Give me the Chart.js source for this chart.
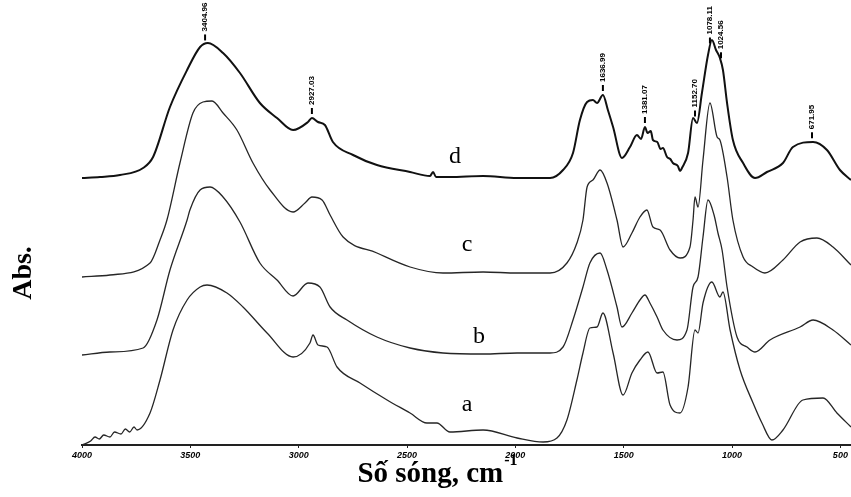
<!DOCTYPE html>
<html>
<head>
<meta charset="utf-8">
<script src="https://cdn.jsdelivr.net/npm/chart.js@4.4.0/dist/chart.umd.min.js"></script>
<style>
  html, body { margin: 0; background: #fff; }
</style>
</head>
<body>
<canvas id="irChart" width="851" height="497"></canvas>
<script>
// wavenumber ticks (cm-1)
const xTicks = [4000, 3500, 3000, 2500, 2000, 1500, 1000, 500];

// spectra, stacked (arbitrary absorbance units)
const wnA = [4000,3960,3940,3920,3900,3871,3850,3820,3800,3780,3760,3746,3686,3640,3580,3515,3455,3423,3331,3257,3146,3026,2948,2934,2911,2869,2823,2717,2592,2486,2408,2362,2302,2149,1992,1872,1808,1762,1716,1688,1656,1623,1596,1549,1503,1462,1425,1388,1346,1319,1286,1240,1203,1171,1157,1134,1093,1056,1042,1009,963,903,862,816,765,673,580,516,451];
const absA = [0,4,8,6,10,8,13,11,16,13,18,15,32,65,115,145,158,160,152,138,112,88,102,110,100,98,78,62,45,32,22,22,13,15,7,3,7,25,65,92,117,118,132,92,50,72,85,93,72,73,40,32,58,115,112,142,163,148,153,115,75,42,22,5,15,45,47,32,18];

const wnB = [4000,3871,3718,3654,3594,3515,3502,3455,3409,3349,3271,3179,3100,3026,2957,2902,2855,2777,2639,2486,2334,2149,1992,1840,1780,1734,1688,1656,1609,1577,1531,1508,1462,1425,1402,1379,1346,1319,1254,1208,1180,1157,1134,1111,1083,1065,1046,1023,977,931,894,825,686,626,534,451];
const absB = [90,93,97,125,175,225,235,255,258,248,223,182,165,149,162,158,138,125,108,97,92,91,92,92,98,125,158,182,192,175,138,118,132,145,150,142,128,115,105,115,158,168,208,245,230,212,195,158,108,98,93,105,118,125,115,100];

const wnC = [4000,3871,3686,3640,3608,3548,3488,3442,3400,3349,3285,3211,3132,3026,2971,2939,2892,2855,2795,2639,2486,2334,2149,1992,1840,1762,1716,1688,1669,1642,1609,1577,1531,1503,1462,1425,1393,1365,1332,1286,1240,1194,1180,1171,1157,1134,1102,1069,1056,1023,996,949,903,848,765,686,608,534,451];
const absC = [168,170,182,205,225,282,332,343,344,332,315,282,255,233,242,248,245,230,208,192,178,172,173,172,172,182,202,225,258,265,275,262,225,198,212,228,235,218,215,195,187,198,225,248,238,285,342,308,305,268,225,188,178,172,185,203,207,198,180];

const wnD = [4000,3917,3825,3718,3672,3594,3515,3455,3419,3349,3271,3179,3100,3026,2957,2939,2911,2879,2842,2749,2639,2486,2394,2380,2366,2302,2149,1992,1840,1780,1734,1702,1669,1642,1623,1596,1573,1549,1508,1471,1439,1420,1402,1390,1375,1365,1345,1330,1319,1300,1285,1273,1250,1240,1231,1203,1180,1162,1139,1111,1093,1074,1056,1042,1023,996,949,894,839,765,719,626,562,502,451];
const absD = [267,268,270,277,288,338,375,398,402,392,372,342,327,315,323,327,323,320,303,290,280,273,269,273,268,268,269,267,267,275,292,325,343,345,342,350,335,318,287,298,310,306,318,312,314,305,303,296,297,288,286,282,279,274,277,292,327,322,352,390,405,395,387,375,342,305,282,267,273,282,298,303,295,275,265];

// peak marks on spectrum d
const peakWn = [3432, 2939, 1596, 1402, 1171, 1102, 1051, 631];
const peakText = ['3404.96', '2927.03', '1636.99', '1381.07', '1152.70', '1078.11', '1024.56', '671.95'];

const seriesNames = ['a', 'b', 'c', 'd'];

function toPoints(wn, ab) {
    return wn.map((w, i) => ({ x: w, y: ab[i] }));
}

function valueAt(wn, ab, w) {
    for (let i = 0; i < wn.length - 1; i++) {
        if (w <= wn[i] && w >= wn[i + 1]) {
            const t = (wn[i] - w) / (wn[i] - wn[i + 1]);
            return ab[i] + t * (ab[i + 1] - ab[i]);
        }
    }
    return ab[ab.length - 1];
}

const decor = {
    id: 'decor',
    afterDatasetsDraw(chart) {
        const { ctx, scales: { x, y } } = chart;
        ctx.save();
        ctx.fillStyle = '#000';
        ctx.strokeStyle = '#000';

        // peak positions
        peakWn.forEach((w, i) => {
            const px = x.getPixelForValue(w);
            const py = y.getPixelForValue(valueAt(wnD, absD, w));
            ctx.lineWidth = 2;
            ctx.beginPath();
            ctx.moveTo(px, py - 10);
            ctx.lineTo(px, py - 4);
            ctx.stroke();
            ctx.save();
            ctx.translate(px, py - 13);
            ctx.rotate(-Math.PI / 2);
            ctx.font = "bold 8px 'Liberation Sans Narrow', 'Liberation Sans', sans-serif";
            ctx.textAlign = 'left';
            ctx.textBaseline = 'middle';
            ctx.fillText(peakText[i], 0, 0);
            ctx.restore();
        });

        // curve letters
        const tagWn = [2223, 2168, 2223, 2279];
        const tagAbs = [40, 108, 200, 288];
        ctx.font = "24px 'Liberation Serif', serif";
        ctx.textAlign = 'center';
        ctx.textBaseline = 'middle';
        seriesNames.forEach((s, i) => {
            ctx.fillText(s, x.getPixelForValue(tagWn[i]), y.getPixelForValue(tagAbs[i]));
        });

        // x title with superscript
        const main = 'Số sóng, cm';
        const sup = '-1';
        ctx.font = "bold 29px 'Liberation Serif', serif";
        const wMain = ctx.measureText(main).width;
        ctx.font = "bold 16px 'Liberation Serif', serif";
        const wSup = ctx.measureText(sup).width;
        const left = 437 - (wMain + wSup) / 2;
        ctx.textAlign = 'left';
        ctx.textBaseline = 'alphabetic';
        ctx.font = "bold 29px 'Liberation Serif', serif";
        ctx.fillText(main, left, 482);
        ctx.font = "bold 16px 'Liberation Serif', serif";
        ctx.fillText(sup, left + wMain + 1, 465);

        // y title
        ctx.save();
        ctx.translate(24, 273);
        ctx.rotate(-Math.PI / 2);
        ctx.font = "bold 28px 'Liberation Serif', serif";
        ctx.textAlign = 'center';
        ctx.textBaseline = 'middle';
        ctx.fillText('Abs.', 0, 0);
        ctx.restore();

        ctx.restore();
    }
};

const ctxIR = document.getElementById('irChart').getContext('2d');
const irChart = new Chart(ctxIR, {
    type: 'line',
    data: {
        datasets: [
            { label: 'a', data: toPoints(wnA, absA), borderColor: '#262626', borderWidth: 1.3 },
            { label: 'b', data: toPoints(wnB, absB), borderColor: '#262626', borderWidth: 1.3 },
            { label: 'c', data: toPoints(wnC, absC), borderColor: '#262626', borderWidth: 1.3 },
            { label: 'd', data: toPoints(wnD, absD), borderColor: '#111', borderWidth: 2 }
        ]
    },
    options: {
        responsive: false,
        animation: false,
        elements: {
            point: { radius: 0 },
            line: { cubicInterpolationMode: 'monotone', fill: false }
        },
        layout: { padding: { left: 82, right: 0, top: 0, bottom: 0 } },
        plugins: {
            legend: { display: false },
            tooltip: { enabled: false }
        },
        scales: {
            x: {
                type: 'linear',
                reverse: true,
                min: 451,
                max: 4000,
                afterBuildTicks: (scale) => {
                    scale.ticks = xTicks.map(v => ({ value: v }));
                },
                afterFit: (scale) => { scale.height = 52; },
                border: { display: true, color: '#222', width: 2 },
                grid: { display: true, drawOnChartArea: false, tickLength: 3, color: '#222' },
                ticks: {
                    color: '#000',
                    padding: 2,
                    maxRotation: 0,
                    callback: (v) => String(v),
                    font: { family: "'Liberation Sans', sans-serif", size: 9, style: 'italic', weight: 'bold' }
                }
            },
            y: {
                display: false,
                min: 0,
                max: 445
            }
        }
    },
    plugins: [decor]
});
</script>
</body>
</html>
